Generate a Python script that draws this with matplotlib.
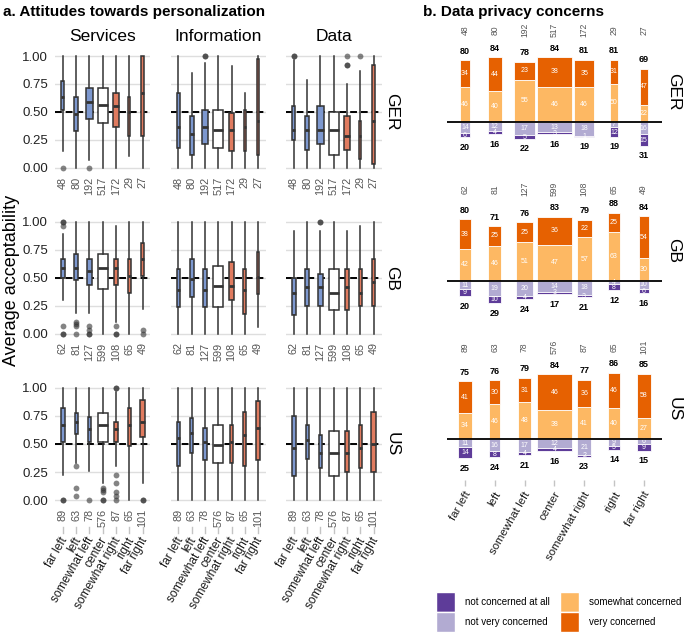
import numpy as np
import matplotlib.pyplot as plt
from matplotlib.patches import Patch

plt.rcParams['font.family'] = ['Liberation Sans', 'DejaVu Sans']

categories = ['far left', 'left', 'somewhat left', 'center', 'somewhat right', 'right', 'far right']
countries = ['GER', 'GB', 'US']
domains = ['Services', 'Information', 'Data']

n_ger = [48, 80, 192, 517, 172, 29, 27]
n_gb = [62, 81, 127, 599, 108, 65, 49]
n_us = [89, 63, 78, 576, 87, 65, 101]

# box summaries: (whisker low, q1, median, q3, whisker high)
ger_services = [(0.15, 0.52, 0.63, 0.78, 1.0), (0.0, 0.33, 0.48, 0.63, 1.0), (0.07, 0.44, 0.59, 0.71, 1.0),
                (0.0, 0.40, 0.56, 0.71, 1.0), (0.0, 0.37, 0.55, 0.67, 1.0), (0.11, 0.29, 0.50, 0.63, 1.0),
                (0.0, 0.29, 0.67, 1.0, 1.0)]
ger_services_out = [[0.0], [], [0.0], [], [], [], []]
ger_information = [(0.0, 0.18, 0.37, 0.67, 1.0), (0.0, 0.12, 0.30, 0.46, 0.85), (0.0, 0.21, 0.37, 0.52, 0.94),
                   (0.0, 0.18, 0.34, 0.52, 1.0), (0.0, 0.15, 0.34, 0.49, 0.91), (0.0, 0.15, 0.37, 0.52, 0.67),
                   (0.0, 0.12, 0.42, 0.97, 1.0)]
ger_information_out = [[], [], [1.0, 1.0], [], [], [], []]
ger_data = [(0.0, 0.25, 0.34, 0.55, 0.96), (0.0, 0.16, 0.34, 0.46, 0.79), (0.0, 0.21, 0.34, 0.55, 1.0),
            (0.0, 0.12, 0.34, 0.50, 1.0), (0.0, 0.16, 0.29, 0.46, 0.75), (0.0, 0.08, 0.29, 0.42, 0.87),
            (0.0, 0.04, 0.42, 0.92, 1.0)]
ger_data_out = [[1.0, 1.0], [], [], [], [0.92, 0.92, 1.0], [1.0], []]

gb_services = [(0.30, 0.50, 0.59, 0.67, 0.89), (0.19, 0.48, 0.59, 0.71, 1.0), (0.19, 0.44, 0.56, 0.67, 1.0),
               (0.0, 0.40, 0.59, 0.71, 1.0), (0.11, 0.44, 0.59, 0.67, 0.96), (0.0, 0.37, 0.52, 0.67, 1.0),
               (0.22, 0.52, 0.67, 0.81, 1.0)]
gb_services_out = [[1.0, 1.0, 0.96, 0.07, 0.0, 0.0], [0.11, 0.09, 0.07, 0.0], [0.07, 0.04, 0.0, 0.0],
                   [], [0.07, 0.0, 0.0], [], [0.04, 0.0]]
gb_information = [(0.0, 0.24, 0.39, 0.58, 1.0), (0.0, 0.33, 0.49, 0.67, 1.0), (0.0, 0.24, 0.39, 0.58, 1.0),
                  (0.0, 0.24, 0.43, 0.61, 1.0), (0.0, 0.30, 0.43, 0.64, 1.0), (0.0, 0.18, 0.39, 0.58, 1.0),
                  (0.06, 0.36, 0.51, 0.73, 1.0)]
gb_information_out = [[], [], [], [], [], [], []]
gb_data = [(0.0, 0.17, 0.37, 0.50, 0.92), (0.0, 0.25, 0.42, 0.58, 1.0), (0.0, 0.25, 0.42, 0.54, 0.92),
           (0.0, 0.21, 0.37, 0.58, 1.0), (0.0, 0.21, 0.42, 0.58, 0.92), (0.0, 0.25, 0.37, 0.58, 0.96),
           (0.0, 0.25, 0.46, 0.67, 1.0)]
gb_data_out = [[], [], [1.0, 1.0], [], [], [], []]

us_services = [(0.22, 0.52, 0.67, 0.82, 1.0), (0.33, 0.59, 0.70, 0.78, 1.0), (0.26, 0.52, 0.63, 0.74, 1.0),
               (0.15, 0.52, 0.67, 0.78, 1.0), (0.30, 0.52, 0.63, 0.70, 0.96), (0.0, 0.48, 0.67, 0.82, 1.0),
               (0.15, 0.56, 0.70, 0.89, 1.0)]
us_services_out = [[0.0, 0.0], [0.30, 0.11, 0.04], [0.0], [0.11, 0.09, 0.07, 0.0, 0.0],
                   [1.0, 1.0, 0.22, 0.15, 0.07, 0.04, 0.0], [], [0.0, 0.0]]
us_information = [(0.0, 0.30, 0.55, 0.70, 1.0), (0.0, 0.42, 0.60, 0.73, 1.0), (0.0, 0.36, 0.52, 0.64, 1.0),
                  (0.0, 0.33, 0.49, 0.67, 1.0), (0.0, 0.33, 0.52, 0.67, 1.0), (0.0, 0.30, 0.58, 0.79, 1.0),
                  (0.0, 0.36, 0.64, 0.88, 1.0)]
us_information_out = [[], [], [], [], [], [], []]
us_data = [(0.0, 0.21, 0.46, 0.75, 1.0), (0.0, 0.37, 0.54, 0.67, 1.0), (0.0, 0.29, 0.42, 0.58, 1.0),
           (0.0, 0.21, 0.42, 0.62, 1.0), (0.0, 0.25, 0.42, 0.62, 1.0), (0.0, 0.29, 0.46, 0.67, 1.0),
           (0.0, 0.25, 0.50, 0.79, 1.0)]
us_data_out = [[], [], [], [], [], [], []]

# privacy concerns, percent
ger_very = [34, 44, 23, 38, 35, 31, 47]
ger_somewhat = [46, 40, 55, 46, 46, 50, 22]
ger_notvery = [14, 12, 17, 13, 18, 7, 16]
ger_notatall = [6, 4, 5, 3, 1, 12, 15]
gb_very = [38, 25, 25, 36, 22, 25, 54]
gb_somewhat = [42, 46, 51, 47, 57, 63, 30]
gb_notvery = [11, 19, 20, 14, 18, 4, 10]
gb_notatall = [9, 10, 4, 3, 3, 8, 6]
us_very = [41, 30, 31, 46, 36, 46, 58]
us_somewhat = [34, 46, 48, 38, 41, 40, 27]
us_notvery = [11, 16, 17, 12, 21, 9, 6]
us_notatall = [14, 8, 4, 4, 2, 5, 9]

n_by_country = {'GER': n_ger, 'GB': n_gb, 'US': n_us}
boxes = {
    'GER': [(ger_services, ger_services_out), (ger_information, ger_information_out), (ger_data, ger_data_out)],
    'GB': [(gb_services, gb_services_out), (gb_information, gb_information_out), (gb_data, gb_data_out)],
    'US': [(us_services, us_services_out), (us_information, us_information_out), (us_data, us_data_out)],
}
concern = {
    'GER': (ger_notatall, ger_notvery, ger_somewhat, ger_very),
    'GB': (gb_notatall, gb_notvery, gb_somewhat, gb_very),
    'US': (us_notatall, us_notvery, us_somewhat, us_very),
}

box_colors = ['#7d98cf', '#7d98cf', '#7d98cf', 'white', '#e07b5f', '#e07b5f', '#e07b5f']
c_notatall, c_notvery, c_somewhat, c_very = '#5e3c99', '#b2abd2', '#fdb863', '#e66101'

W, H = 685, 635
fig = plt.figure(figsize=(W / 100, H / 100), dpi=100)


def px_axes(x0, y0, x1, y1):
    return fig.add_axes([x0 / W, 1 - y1 / H, (x1 - x0) / W, (y1 - y0) / H])


# ---------- a. boxplots ----------
left_x = [(55, 150.5), (170.5, 266), (286, 381.5)]
left_y = [(50.4, 173.6), (216.4, 339.6), (382.4, 505.6)]
pos = np.arange(7)

for r, country in enumerate(countries):
    n = np.array(n_by_country[country])
    widths = 0.75 * np.sqrt(n / n.max())
    for c, domain in enumerate(domains):
        ax = px_axes(left_x[c][0], left_y[r][0], left_x[c][1], left_y[r][1])
        summ, outs = boxes[country][c]
        stats = [dict(whislo=s[0], q1=s[1], med=s[2], q3=s[3], whishi=s[4], fliers=o)
                 for s, o in zip(summ, outs)]
        ax.axhline(0.5, color='black', lw=1.4, ls=(0, (3.5, 2)), zorder=1)
        bp = ax.bxp(stats, positions=pos, widths=widths, patch_artist=True, showcaps=False,
                    boxprops=dict(edgecolor='#333333', linewidth=1.1),
                    whiskerprops=dict(color='#333333', linewidth=1.1),
                    medianprops=dict(color='#333333', linewidth=2),
                    flierprops=dict(marker='o', markerfacecolor='#333333', markeredgecolor='none',
                                    alpha=0.6, markersize=4.2))
        for patch, col in zip(bp['boxes'], box_colors):
            patch.set_facecolor(col)
            patch.set_zorder(2)
        ax.set_xlim(-0.6, 6.6)
        ax.set_ylim(-0.05, 1.05)
        ax.set_yticks([0, 0.25, 0.5, 0.75, 1.0])
        ax.yaxis.grid(True, color='#dedede', lw=1)
        ax.set_axisbelow(True)
        for s in ax.spines.values():
            s.set_visible(False)
        ax.tick_params(length=0)
        ax.set_xticks([])
        if c == 0:
            ax.set_yticklabels(['0.00', '0.25', '0.50', '0.75', '1.00'], fontsize=9.5, color='#222222')
            ax.tick_params(axis='y', pad=5)
        else:
            ax.set_yticklabels([])
        for i, v in enumerate(n):
            ax.text(i, -0.075, str(v), rotation=90, ha='center', va='top', fontsize=7.8,
                    color='#555555', clip_on=False)
        if r == 0:
            ax.set_title(domain, fontsize=12.5, pad=7)
        if r == 2:
            for i, cat in enumerate(categories):
                ax.plot([i, i], [-0.245, -0.295], color='#c4c4c4', lw=1, clip_on=False)
                ax.text(i + 0.15, -0.34, cat, rotation=60, rotation_mode='anchor', ha='right',
                        va='center', fontsize=8.6, color='#1a1a1a', clip_on=False)
    fig.text(392 / W, 1 - (left_y[r][0] + left_y[r][1]) / 2 / H, country, rotation=270,
             ha='center', va='center', fontsize=12.5)

fig.text(12 / W, 1 - 280 / H, 'Average acceptability', rotation=90, ha='center', va='center',
         fontsize=13)
fig.text(3 / W, 1 - 12 / H, 'a. Attitudes towards personalization', fontweight='bold',
         fontsize=11, ha='left', va='center')

# ---------- b. stacked bars ----------
zero_px = [122, 281, 439]
scale = 0.77  # px per percent
ymin, ymax = -53, 125
for r, country in enumerate(countries):
    n = np.array(n_by_country[country])
    widths = 1.17 * np.sqrt(n / n.max())
    z = zero_px[r]
    ax = px_axes(447, z - ymax * scale, 661.7, z - ymin * scale)
    notatall, notvery, somewhat, very = [np.array(a) for a in concern[country]]
    segs = [(somewhat, np.zeros(7), c_somewhat), (very, somewhat, c_very),
            (-notvery, np.zeros(7), c_notvery), (-notatall, -notvery, c_notatall)]
    for h, b, col in segs:
        ax.bar(pos, h, width=widths, bottom=b, color=col, edgecolor='white', linewidth=0.6, zorder=2)
        for i in range(7):
            ax.text(i, b[i] + h[i] / 2, str(abs(h[i])), ha='center', va='center', fontsize=5,
                    color='white', zorder=3)
    top = somewhat + very
    bottom = notvery + notatall
    for i in range(7):
        ax.text(i, top[i] + 12, str(top[i]), ha='center', va='center', fontsize=6.5,
                fontweight='bold', color='black')
        ax.text(i, -bottom[i] - 13, str(bottom[i]), ha='center', va='center', fontsize=6.5,
                fontweight='bold', color='black', clip_on=False)
        ax.text(i, 119.5, str(n[i]), rotation=90, ha='center', va='center', fontsize=6.2,
                color='#555555', clip_on=False)
    ax.axhline(0, color='black', lw=1.3, zorder=4)
    ax.set_xlim(-0.6, 6.6)
    ax.set_ylim(ymin, ymax)
    ax.set_yticks([])
    for s in ax.spines.values():
        s.set_visible(False)
    if r == 2:
        ax.set_xticks(pos)
        ax.set_xticklabels([])
        ax.tick_params(axis='x', length=4.5, color='#c4c4c4', width=1)
        for i, cat in enumerate(categories):
            ax.text(i + 0.12, -69, cat, rotation=60, rotation_mode='anchor', ha='right',
                    va='center', fontsize=8.2, color='#1a1a1a', clip_on=False)
    else:
        ax.set_xticks([])
    fig.text(674 / W, 1 - (z - 30) / H, country, rotation=270, ha='center', va='center',
             fontsize=12.5)

fig.text(423 / W, 1 - 12 / H, 'b. Data privacy concerns', fontweight='bold', fontsize=11,
         ha='left', va='center')

labels = ['not concerned at all', 'not very concerned', 'somewhat concerned', 'very concerned']
handles = [Patch(facecolor=col, edgecolor='white') for col in (c_notatall, c_notvery, c_somewhat, c_very)]
fig.legend(handles, labels, loc='upper left', bbox_to_anchor=(436 / W, 1 - 592 / H), ncol=2,
           frameon=False, fontsize=7, handlelength=2.0, handleheight=2.8, handletextpad=1.0,
           columnspacing=1.0, labelspacing=0.0, borderpad=0, borderaxespad=0)

fig.savefig('out.png', dpi=100)
